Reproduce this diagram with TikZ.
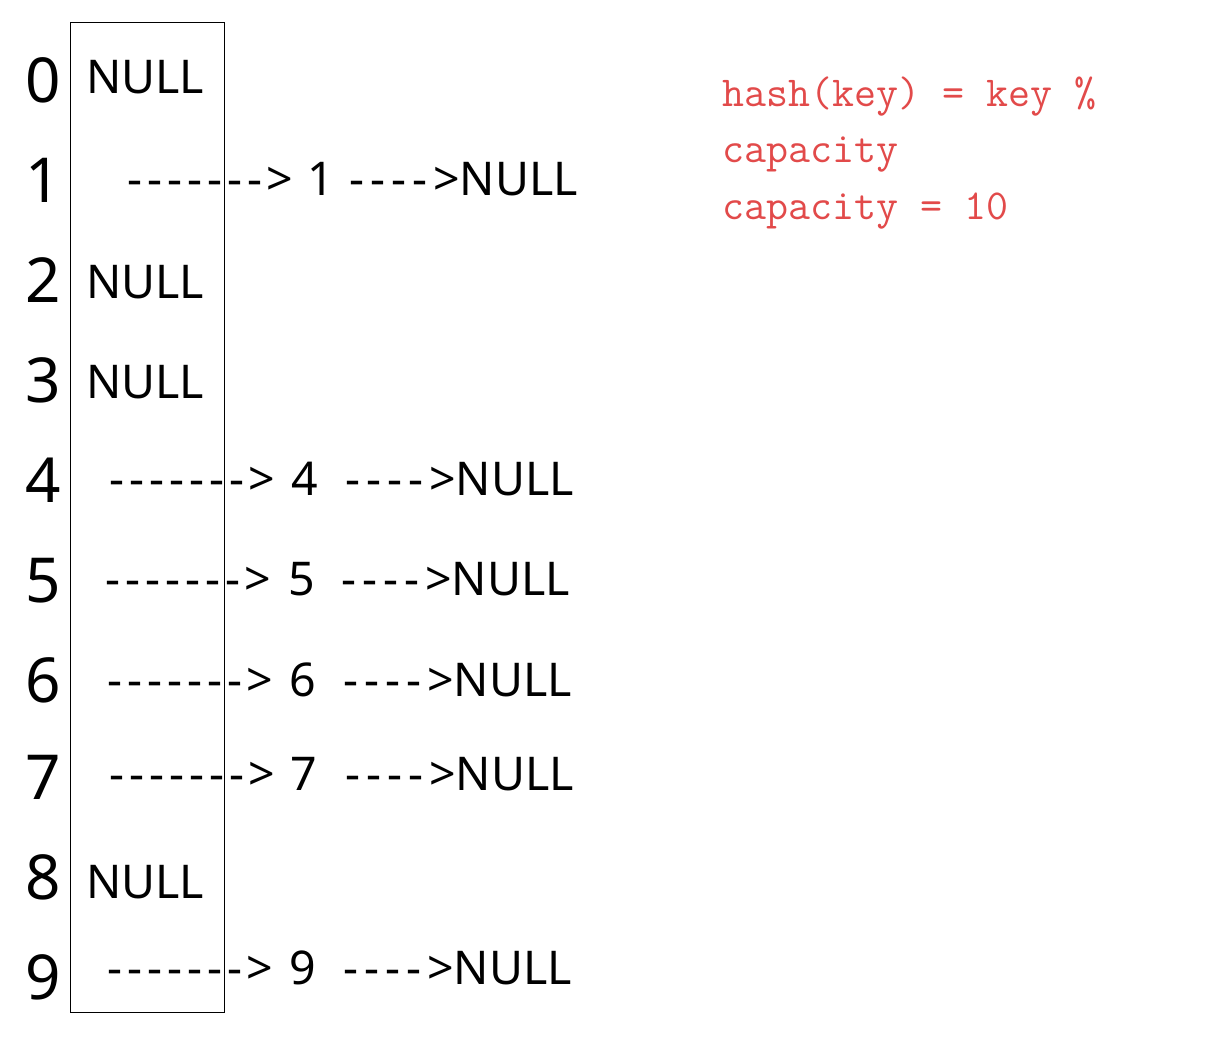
\documentclass[tikz,border=0pt]{standalone}
\usepackage{fontspec}
\newfontfamily\uifont{Noto Sans}
\newfontfamily\codefont{Latin Modern Mono}
\definecolor{codered}{RGB}{226,74,74}
\newcommand\hy{-\kern5pt}
\newcommand\hys{-\kern6pt}
\newcommand\longarr{\hy\hy\hy\hy\hy\hy\hy>}
\newcommand\shortarr{\hys\hys\hys\hys>}
\begin{document}
\begin{tikzpicture}[x=1pt,y=-1pt,
  idx/.style={anchor=base, inner sep=0pt, font=\uifont\fontsize{62}{62}\selectfont},
  txt/.style={anchor=base west, inner sep=0pt, font=\uifont\fontsize{46.5}{47}\selectfont},
  num/.style={anchor=base, inner sep=0pt, font=\uifont\fontsize{46.5}{47}\selectfont},
  code/.style={anchor=base west, inner sep=0pt, text=codered, font=\codefont\fontsize{42.7}{43}\selectfont}]
\useasboundingbox (0,0) rectangle (1217,1053);
\fill[white] (0,0) rectangle (1217,1053);
\node (table) [draw, line width=1.4pt, minimum width=154pt, minimum height=990pt, inner sep=0pt, anchor=north west] at (70,22) {};
% indices
\node[idx] (i0) at (43,102) {0};
\node[idx] (i1) at (43,202) {1};
\node[idx] (i2) at (43,302) {2};
\node[idx] (i3) at (43,402) {3};
\node[idx] (i4) at (43,502) {4};
\node[idx] (i5) at (43,602) {5};
\node[idx] (i6) at (43,702) {6};
\node[idx] (i7) at (43,799) {7};
\node[idx] (i8) at (43,899) {8};
\node[idx] (i9) at (43,999) {9};
% empty buckets
\node[txt] (n0) at (86,93) {NULL};
\node[txt] (n2) at (86,298) {NULL};
\node[txt] (n3) at (86,398) {NULL};
\node[txt] (n8) at (86,898) {NULL};
% chains
\node[txt] (a1) at (127,195) {\longarr};
\node[num] (k1) at (321,195) {1};
\node[txt] (b1) at (349,195) {\shortarr NULL};
\node[txt] (a4) at (109,495) {\longarr};
\node[num] (k4) at (305,495) {4};
\node[txt] (b4) at (345,495) {\shortarr NULL};
\node[txt] (a5) at (105,595) {\longarr};
\node[num] (k5) at (302,595) {5};
\node[txt] (b5) at (341,595) {\shortarr NULL};
\node[txt] (a6) at (107,696) {\longarr};
\node[num] (k6) at (303,696) {6};
\node[txt] (b6) at (343,696) {\shortarr NULL};
\node[txt] (a7) at (109,790) {\longarr};
\node[num] (k7) at (304,790) {7};
\node[txt] (b7) at (345,790) {\shortarr NULL};
\node[txt] (a9) at (107,984) {\longarr};
\node[num] (k9) at (303,984) {9};
\node[txt] (b9) at (343,984) {\shortarr NULL};
% formula
\node[code] (f1) at (722,106) {hash(key) = key \%};
\node[code] (f2) at (722,162) {capacity};
\node[code] (f3) at (722,219) {capacity = 10};
\end{tikzpicture}
\end{document}
